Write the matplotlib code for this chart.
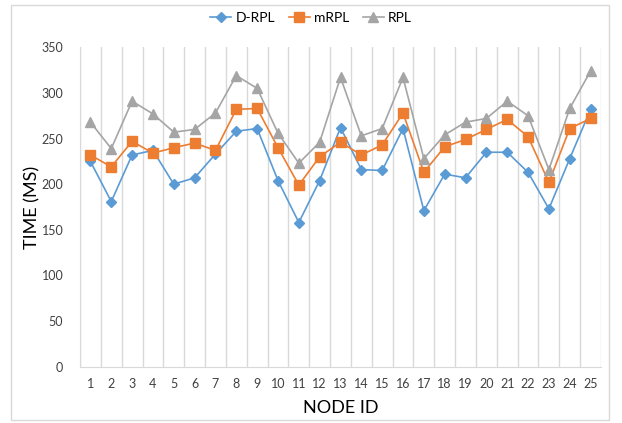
import numpy as np
import matplotlib.pyplot as plt
from matplotlib.patches import Rectangle

# Data
nodes = list(range(1, 26))
d_rpl = [225, 181, 232, 237, 200, 207, 233, 258, 261, 204, 158, 204, 262,
         216, 215, 261, 171, 211, 207, 235, 235, 213, 173, 228, 282]
m_rpl = [232, 219, 247, 234, 240, 245, 237, 282, 283, 240, 199, 230, 246,
         232, 243, 278, 213, 241, 249, 260, 271, 252, 202, 261, 272]
rpl = [268, 239, 291, 277, 257, 260, 278, 319, 305, 256, 223, 246, 317,
       253, 261, 317, 228, 254, 268, 272, 291, 275, 216, 283, 324]

plt.rcParams['font.family'] = ['Lato', 'DejaVu Sans']

fig = plt.figure(figsize=(6.22, 4.23), dpi=100)
ax = fig.add_axes([80 / 622, 56.3 / 423, 521 / 622, 319.4 / 423])

# outer chart border
fig.patches.append(Rectangle((11 / 622, 3 / 423), 598 / 622, 415 / 423,
                             transform=fig.transFigure, fill=False,
                             edgecolor='#d9d9d9', linewidth=1))

x = np.arange(len(nodes))
ax.plot(x, d_rpl, color='#5B9BD5', marker='D', markersize=5, linewidth=1.2, label='D-RPL')
ax.plot(x, m_rpl, color='#ED7D31', marker='s', markersize=6.5, linewidth=1.2, label='mRPL')
ax.plot(x, rpl, color='#A5A5A5', marker='^', markersize=6.5, linewidth=1.2, label='RPL')

ax.set_xlim(-0.5, len(nodes) - 0.5)
ax.set_ylim(0, 350)
ax.set_yticks(np.arange(0, 351, 50))
ax.set_xticks(x)
ax.set_xticklabels([str(n) for n in nodes])

# vertical gridlines between categories
for b in np.arange(-0.5, len(nodes), 1.0):
    ax.axvline(b, color='#d9d9d9', linewidth=1, zorder=0)

for s in ['top', 'right']:
    ax.spines[s].set_visible(False)
ax.spines['left'].set_color('#d9d9d9')
ax.spines['bottom'].set_color('#d9d9d9')
ax.tick_params(length=0, labelsize=9, colors='#404040')
ax.tick_params(axis='y', pad=12)
ax.tick_params(axis='x', pad=8)

ax.set_xlabel('NODE ID', fontsize=13, color='#000000', labelpad=7)
ax.set_ylabel('TIME (MS)', fontsize=13, color='#000000', labelpad=1)

fig.legend(loc='center', bbox_to_anchor=(0.5, 1 - 18 / 423), ncol=3, frameon=False,
           fontsize=10, handlelength=1.5, columnspacing=1.0, handletextpad=0.3)

fig.savefig('out.png', dpi=100)
